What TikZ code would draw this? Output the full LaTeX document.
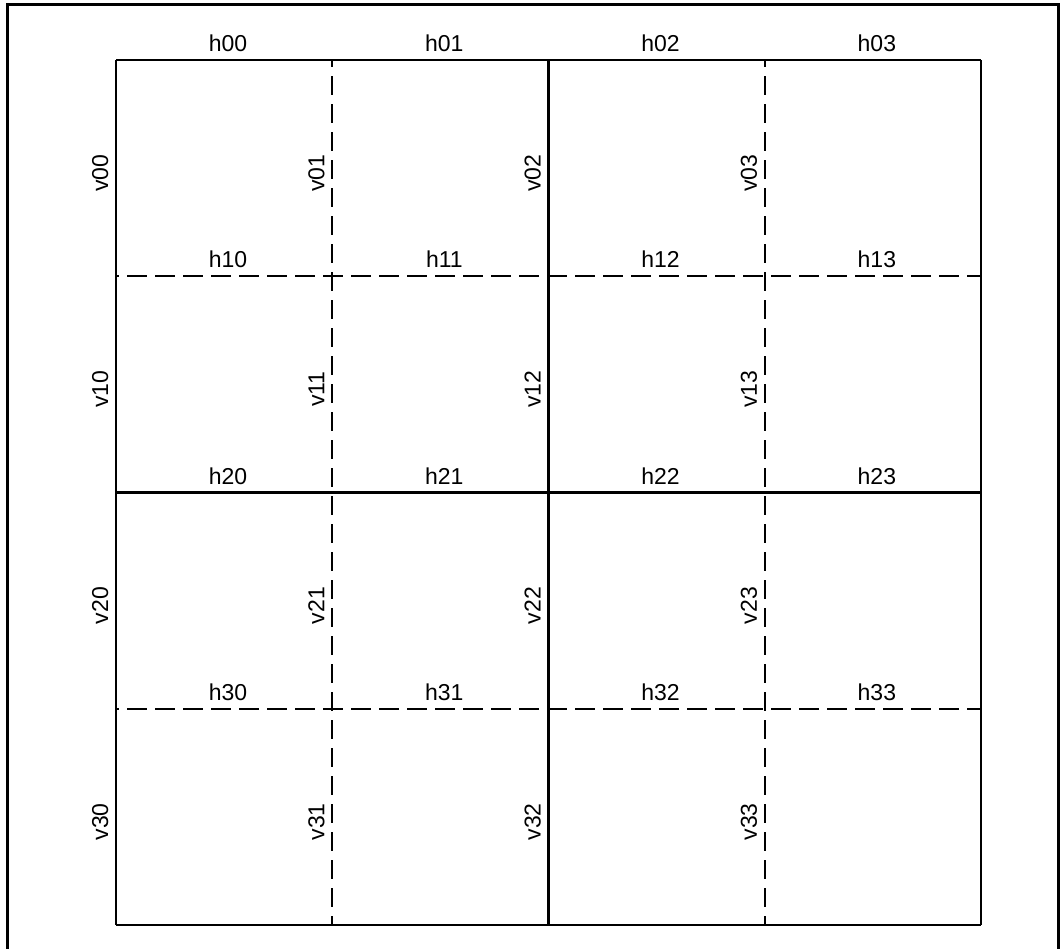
\documentclass[tikz,border=0pt]{standalone}
\usepackage{fontspec}
\setmainfont{Liberation Sans}
\usetikzlibrary{calc}
\tikzset{
  frameline/.style={line width=3pt},
  solidline/.style={line width=2.4pt},
  hdash/.style={line width=2.4pt, dash pattern=on 20pt off 8pt, dash phase=17pt},
  vdash/.style={line width=2.4pt, dash pattern=on 19pt off 9pt, dash phase=12pt},
  hlab/.style={anchor=base, inner sep=0pt, font=\fontsize{23}{27}\selectfont},
  vlab/.style={anchor=base, rotate=90, inner sep=0pt, font=\fontsize{23}{27}\selectfont}
}
\begin{document}
\begin{tikzpicture}[x=1pt,y=-1pt]
\useasboundingbox (0,0) rectangle (1060,948);
% outer frame (bottom edge lies outside the picture)
\coordinate (f1) at (7.5,960);
\coordinate (f2) at (7.5,4);
\coordinate (f3) at (1058.5,4);
\coordinate (f4) at (1058.5,960);
\draw[frameline] (f1) -- (f2) -- (f3) -- (f4);
% grid points
\foreach \r in {0,...,4}{
  \foreach \c in {0,...,4}{
    \coordinate (p\r\c) at ({116+216.25*\c},{60+216.25*\r});
  }
}
% solid lines
\foreach \r in {0,2,4}{\draw[solidline] (p\r0) -- (p\r4);}
\foreach \c in {0,2,4}{\draw[solidline] (p0\c) -- (p4\c);}
% dashed lines
\foreach \r in {1,3}{\draw[hdash] (p\r0) -- (p\r4);}
\foreach \c in {1,3}{\draw[vdash] (p0\c) -- (p4\c);}
% labels
\foreach \r in {0,...,3}{
  \foreach \c in {0,...,3}{
    \node[hlab] (h\r\c) at ($(p\r\c)+(112.1,-8.5)$) {h\r\c};
    \node[vlab] (v\r\c) at ($(p\r\c)+(-8,113)$) {v\r\c};
  }
}
\end{tikzpicture}
\end{document}
